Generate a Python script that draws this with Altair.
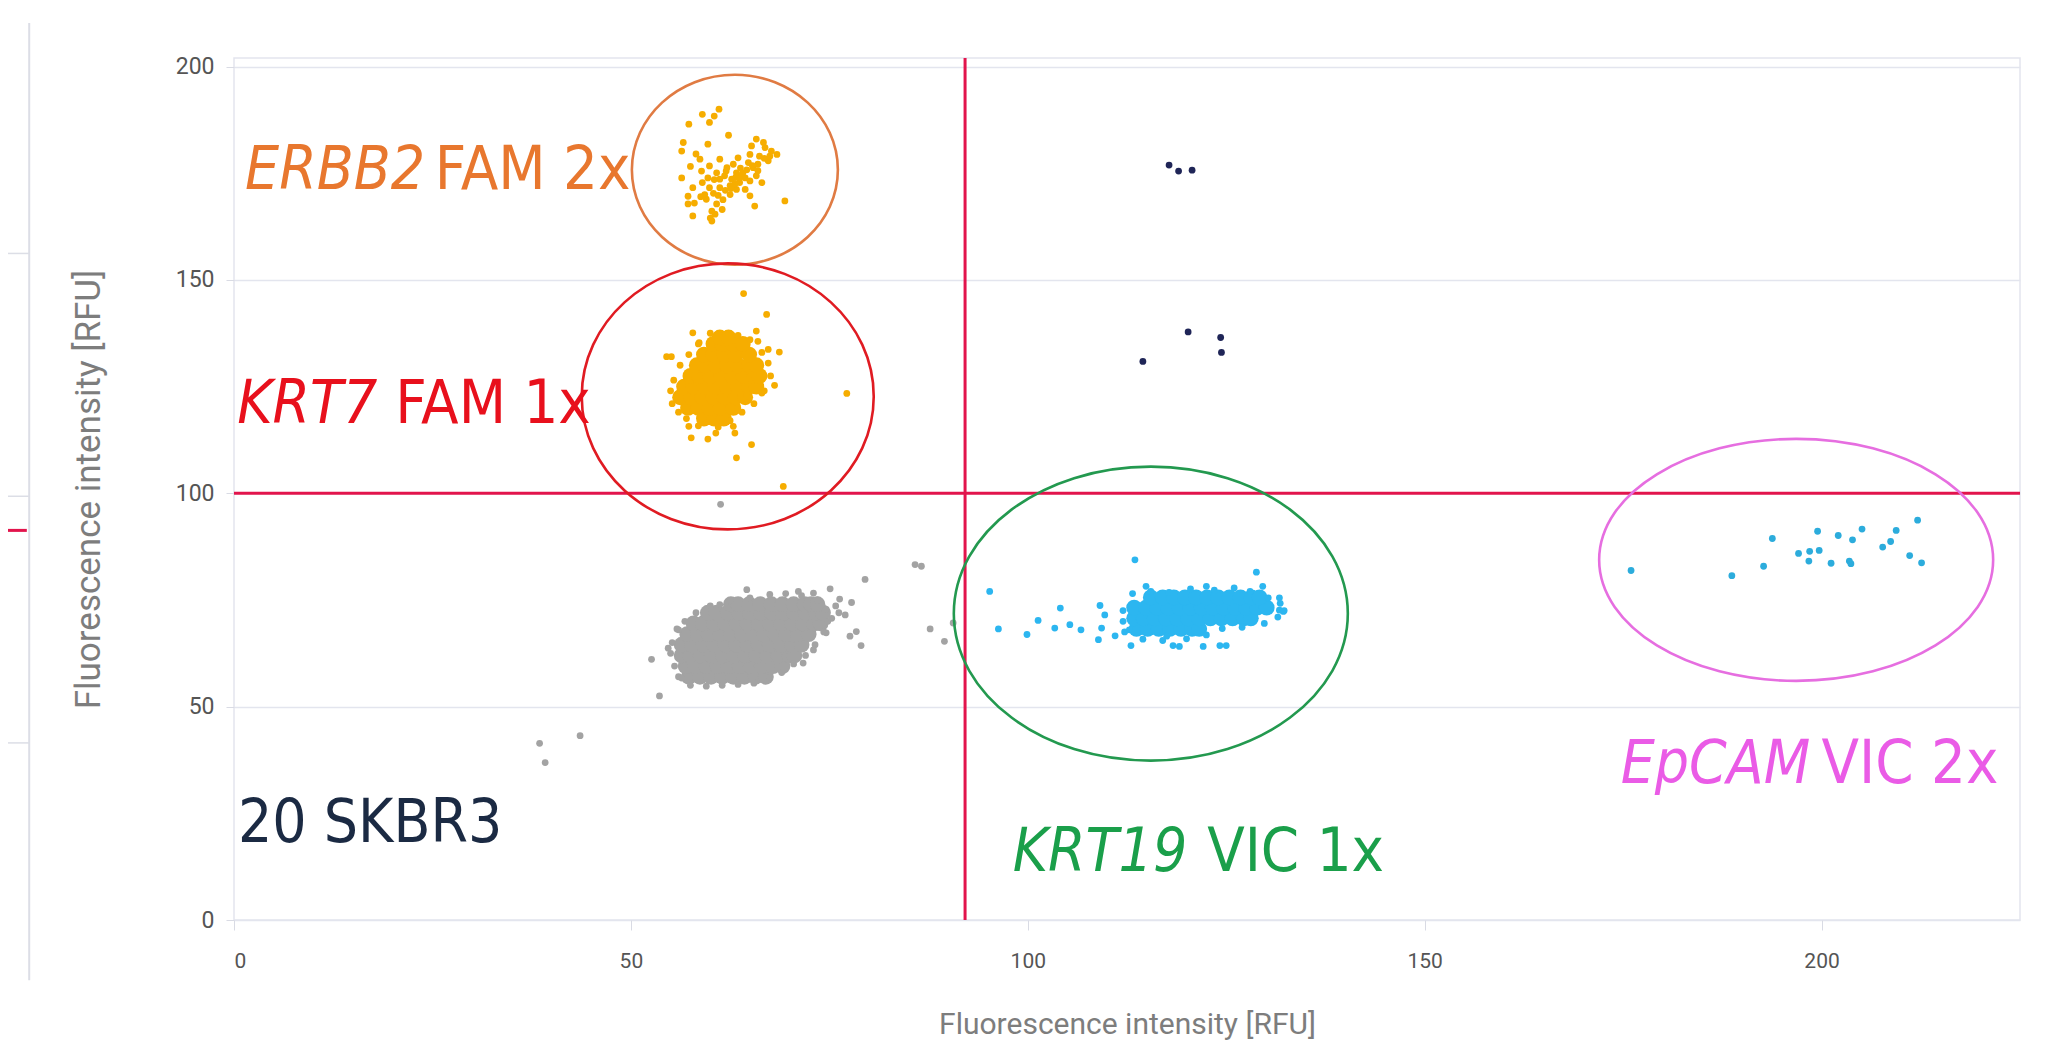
import altair as alt
import pandas as pd

# ---------------- data ----------------
x_domain = [0, 225]
y_domain = [0, 202]
tick_values = [0, 50, 100, 150, 200]

threshold_x = [92.1]
threshold_y = [100]

# dense negative-droplet core (rows of droplets)
gray_core_y = [57.0, 59.5, 62.0, 64.5, 67.0, 69.5, 72.0, 74.0]
gray_core_x = [
    [57.3, 58.7, 60.1, 61.5, 62.9, 64.3, 65.7, 67.0],
    [56.9, 58.1, 59.5, 60.9, 62.3, 63.7, 65.1, 66.5, 67.9, 69.1],
    [56.4, 57.5, 58.8, 60.2, 61.6, 63.0, 64.4, 65.8, 67.2, 68.6, 70.0, 70.6],
    [56.4, 57.7, 59.1, 60.5, 61.9, 63.3, 64.7, 66.1, 67.5, 68.9, 70.3, 71.5],
    [57.1, 58.4, 59.8, 61.2, 62.6, 64.0, 65.4, 66.8, 68.2, 69.6, 71.0, 72.4],
    [57.9, 59.1, 60.5, 61.9, 63.3, 64.7, 66.1, 67.5, 68.9, 70.3, 71.7, 73.1, 73.9],
    [59.7, 60.8, 62.2, 63.6, 65.0, 66.4, 67.8, 69.2, 70.6, 72.0, 73.3, 74.2],
    [62.6, 63.5, 64.9, 66.3, 67.7, 69.1, 70.5, 71.9, 72.7, 73.5],
]
gray_points = [
    (55.0, 62.5), (55.2, 65.0), (55.5, 59.5), (56.0, 57.0), (57.5, 55.0), (59.5, 54.8),
    (61.5, 55.0), (63.5, 55.2), (65.5, 55.5), (67.5, 56.8), (69.0, 58.0), (70.5, 60.0),
    (72.0, 62.0), (73.2, 64.5), (74.3, 67.5), (74.8, 70.0), (74.6, 72.8), (73.5, 75.0),
    (71.5, 76.0), (69.5, 76.5), (67.5, 76.3), (65.0, 75.5), (62.5, 74.8), (60.0, 73.6),
    (58.2, 72.0), (56.8, 70.0), (56.0, 68.0), (75.8, 73.6), (76.2, 72.0),
    (52.6, 61.1), (53.6, 52.5), (54.7, 63.7), (55.8, 68.2), (64.6, 77.4), (61.2, 73.9),
    (71.1, 77.0), (73.0, 76.6), (75.1, 77.6), (76.3, 75.2), (77.8, 74.4), (77.0, 71.5),
    (75.3, 70.7), (79.5, 79.8), (85.8, 83.3), (86.6, 82.9), (78.4, 67.6), (77.6, 66.5),
    (79.0, 64.3), (74.6, 67.3), (73.0, 63.3), (71.7, 60.2), (87.7, 68.2), (89.5, 65.3),
    (90.6, 69.6), (38.5, 41.4), (39.2, 36.9), (43.6, 43.2), (61.3, 97.4), (56.4, 56.7),
]

erbb2_points = [
    (61.1, 190.0), (60.5, 188.4), (59.0, 188.8), (59.9, 186.9), (57.3, 186.5), (62.3, 183.9),
    (56.6, 182.2), (59.7, 181.8), (56.4, 180.2), (65.8, 183.0), (66.7, 182.2), (65.2, 181.4),
    (67.7, 180.2), (68.4, 179.4), (66.2, 179.0), (63.5, 178.6), (58.7, 178.3), (61.2, 178.3),
    (67.3, 177.9), (59.9, 176.7), (62.1, 176.3), (65.4, 176.3), (58.9, 175.5), (60.8, 175.1),
    (64.1, 175.1), (65.8, 174.4), (56.4, 173.9), (59.7, 173.9), (62.7, 173.6), (63.7, 172.8),
    (65.0, 173.2), (66.5, 172.8), (57.8, 171.6), (59.9, 171.6), (61.2, 171.6), (63.3, 171.2),
    (64.4, 171.2), (59.3, 170.0), (62.5, 170.0), (65.0, 169.7), (57.2, 169.6), (61.6, 168.8),
    (57.2, 167.8), (60.8, 167.8), (65.6, 167.3), (60.2, 166.1), (57.8, 165.0), (60.6, 165.4),
    (60.2, 163.8), (69.4, 168.5), (62.9, 177.1), (64.8, 177.5), (61.8, 174.4), (63.3, 175.1),
    (62.5, 172.1), (65.0, 179.4), (66.0, 177.1), (63.7, 173.9), (63.1, 172.5), (64.4, 173.9),
    (61.2, 173.6),
    (58.0, 168.0), (58.8, 169.5), (59.5, 168.9), (60.4, 170.3), (61.0, 169.8), (61.9, 171.0),
    (62.6, 171.4), (63.2, 174.0), (64.0, 174.6), (64.6, 175.8), (65.3, 176.8), (66.0, 175.6),
    (66.8, 178.5), (67.5, 179.0), (62.0, 175.5), (60.5, 173.5), (59.0, 172.8), (61.5, 166.5),
    (60.0, 164.5), (63.8, 176.2), (66.9, 181.0), (58.2, 179.5), (57.5, 176.6),
]

krt7_core_y = [117.5, 120.0, 122.5, 125.0, 127.5, 130.0, 132.5, 135.0, 136.5]
krt7_core_x = [
    [59.2, 60.5, 61.7],
    [57.2, 58.5, 59.9, 61.3, 62.9],
    [56.2, 57.6, 59.0, 60.4, 61.8, 63.2, 64.4],
    [56.7, 57.9, 59.3, 60.7, 62.1, 63.5, 64.9, 65.8],
    [57.5, 58.6, 60.0, 61.4, 62.8, 64.2, 65.6, 66.2],
    [58.3, 59.3, 60.7, 62.1, 63.5, 64.9, 65.8],
    [59.2, 60.4, 61.8, 63.2, 64.9],
    [60.4, 61.5, 62.9, 64.1],
    [61.2, 62.3],
]
krt7_points = [
    (64.2, 146.8), (67.1, 141.9), (57.8, 137.6), (58.6, 135.3), (65.8, 138.0), (66.0, 135.6),
    (67.3, 133.7), (68.7, 133.1), (54.5, 132.0), (55.1, 132.0), (68.1, 125.3), (77.2, 123.4),
    (55.2, 121.0), (57.3, 115.7), (57.6, 113.0), (59.7, 112.7), (60.7, 114.1), (62.9, 115.7),
    (63.1, 114.1), (65.2, 111.4), (63.3, 108.3), (69.2, 101.6), (66.5, 123.5), (64.6, 122.8),
    (55.0, 124.0), (55.4, 126.5), (56.0, 119.0), (57.0, 117.5), (58.5, 115.8), (61.0, 115.5),
    (62.5, 117.0), (64.0, 119.0), (65.5, 121.0), (66.8, 124.0), (67.6, 127.5), (67.3, 130.5),
    (66.5, 133.0), (65.0, 136.0), (63.5, 137.0), (60.0, 137.5), (58.5, 135.0), (57.3, 132.5),
    (56.2, 130.0),
]

krt19_core_y = [68.2, 70.7, 73.2, 75.6]
krt19_core_x = [
    [113.7, 115.1, 116.5, 117.9, 119.3, 120.7, 121.6],
    [113.4, 114.6, 116.0, 117.4, 118.8, 120.2, 121.6, 123.0, 124.4, 125.8, 127.2, 128.1],
    [113.4, 114.9, 116.3, 117.7, 119.1, 120.5, 121.9, 123.3, 124.7, 126.1, 127.5, 128.9, 130.1],
    [115.5, 117.0, 118.4, 119.8, 121.2, 122.6, 124.0, 125.4, 126.8, 128.2, 129.2],
]
krt19_points = [
    (113.5, 84.4), (128.8, 81.5), (95.2, 77.0), (96.3, 68.2), (99.9, 66.9), (101.3, 70.2),
    (103.4, 68.4), (104.1, 73.1), (105.3, 69.2), (106.7, 68.0), (109.1, 73.7), (109.7, 71.5),
    (109.3, 68.4), (108.9, 65.7), (111.0, 66.6), (113.0, 64.3), (118.3, 64.3), (119.1, 64.1),
    (122.1, 64.1), (124.2, 64.3), (125.0, 64.3), (131.7, 75.5), (132.2, 72.3), (131.7, 72.6),
    (129.6, 78.2), (122.5, 78.2), (114.9, 78.2), (117.5, 66.5), (112.8, 68.0),
    (113.2, 76.5), (115.5, 77.0), (117.8, 76.8), (120.5, 77.6), (123.5, 77.3), (126.0, 77.8),
    (128.0, 77.0), (130.3, 75.5), (131.8, 74.2), (132.3, 72.5), (131.5, 71.0), (129.8, 69.5),
    (127.0, 68.6), (124.5, 68.3), (122.5, 66.8), (120.0, 65.9), (117.0, 65.5), (114.5, 65.8),
    (112.2, 67.5), (112.0, 70.0), (112.0, 72.5),
]

epcam_points = [
    (176.0, 81.9), (188.7, 80.7), (192.7, 82.9), (193.8, 89.4), (197.1, 85.9), (198.4, 84.1),
    (198.5, 86.4), (199.7, 86.6), (199.5, 91.1), (201.2, 83.6), (202.1, 90.1), (203.5, 84.1),
    (203.7, 83.5), (203.9, 89.1), (205.1, 91.6), (207.7, 87.4), (208.7, 88.7), (209.4, 91.3),
    (211.1, 85.4), (212.1, 93.7), (212.6, 83.7),
]

double_points = [
    (117.8, 176.9), (119.0, 175.5), (120.7, 175.7), (120.2, 137.8), (124.3, 136.5),
    (124.4, 133.0), (114.5, 130.9),
]

# annotation ellipse centres (data units)
ellipse_names = ["ERBB2", "KRT7", "KRT19", "EpCAM"]
ellipse_x = [63.1, 62.2, 115.5, 196.8]
ellipse_y = [175.8, 122.7, 71.8, 84.4]

# annotation texts
gene_names = ["ERBB2", "KRT7", "KRT19", "EpCAM"]
gene_x = [1.4, 0.4, 98.1, 174.7]
probe_names = ["FAM 2x", "FAM 1x", "VIC 1x", "VIC 2x"]
probe_x = [25.3, 20.3, 122.6, 200.0]
label_y = [171.2, 116.4, 11.5, 32.1]
sample_label = ["20 SKBR3"]
sample_x = [0.5]
sample_y = [18.3]

# partial neighbouring panel at the far left
stub_x = [-28.5, -25.8]
stub_grid_y = [156.2, 99.3, 41.5]
stub_red_y = [91.3]
stub_span_y = [-14.1, 210.2]

# ---------------- styles ----------------
GRAY = "#a3a3a3"
YELLOW = "#f6ad00"
CYAN = "#2cb6f0"
TEAL = "#2cacdc"
NAVY = "#1f2557"
RED_LINE = "#e2144c"
GRID = "#e3e5ee"
gene_colors = ["#e8772e", "#e8101c", "#1a9f4a", "#ea5be6"]
ellipse_colors = ["#e07b43", "#e01b22", "#23994f", "#e66ee0"]
ANN_FONT = "DejaVu Sans Condensed, Liberation Sans"
DOT = 46
CORE = 250

# ---------------- helpers ----------------
def pts_df(pairs):
    return pd.DataFrame(pairs, columns=["x", "y"])


def rows_df(row_y, row_x):
    xs, ys = [], []
    for yv, row in zip(row_y, row_x):
        xs += list(row)
        ys += [yv] * len(row)
    return pd.DataFrame({"x": xs, "y": ys})


def ellipse_path(k):
    c = 0.5523
    return (f"M -1 0 C -1 {-c*k:.4f} {-c:.4f} {-k:.4f} 0 {-k:.4f} "
            f"C {c:.4f} {-k:.4f} 1 {-c*k:.4f} 1 0 "
            f"C 1 {c*k:.4f} {c:.4f} {k:.4f} 0 {k:.4f} "
            f"C {-c:.4f} {k:.4f} -1 {c*k:.4f} -1 0 Z")


xscale = alt.Scale(domain=x_domain, nice=False, zero=False)
yscale = alt.Scale(domain=y_domain, nice=False, zero=False)

xaxis = alt.Axis(values=tick_values, grid=False, domain=False, ticks=True,
                 tickColor="#d9dbe4", tickSize=10, labelPadding=20,
                 labelFont="Roboto", labelFontSize=21, labelColor="#555555",
                 title="Fluorescence intensity [RFU]", titleFont="Roboto",
                 titleFontSize=30, titleFontWeight="normal", titleColor="#7d7d7d",
                 titleX=893, titleY=104, titleBaseline="middle")
yaxis = alt.Axis(values=tick_values, grid=True, gridColor=GRID, gridWidth=1.5,
                 domain=False, ticks=True, tickColor="#d9dbe4", tickSize=8,
                 labelPadding=12, labelFont="Roboto", labelFontSize=23,
                 labelColor="#555555",
                 title="Fluorescence intensity [RFU]", titleFont="Roboto",
                 titleFontSize=35, titleFontWeight="normal", titleColor="#7d7d7d",
                 titleX=-146, titleY=431, titleBaseline="middle", titleAngle=270)

X = alt.X("x:Q", scale=xscale, axis=xaxis)
Y = alt.Y("y:Q", scale=yscale, axis=yaxis)


def dots(df, color, size):
    return alt.Chart(df).mark_circle(size=size, color=color, opacity=1).encode(x=X, y=Y)


layers = []
layers.append(dots(rows_df(gray_core_y, gray_core_x), GRAY, CORE))
layers.append(dots(pts_df(gray_points), GRAY, DOT))
layers.append(dots(rows_df(krt7_core_y, krt7_core_x), YELLOW, CORE))
layers.append(dots(pts_df(krt7_points), YELLOW, DOT))
layers.append(dots(pts_df(erbb2_points), YELLOW, DOT))
layers.append(dots(rows_df(krt19_core_y, krt19_core_x), CYAN, CORE))
layers.append(dots(pts_df(krt19_points), CYAN, DOT))
layers.append(dots(pts_df(epcam_points), TEAL, DOT))
layers.append(dots(pts_df(double_points), NAVY, DOT))

# threshold lines
layers.append(alt.Chart(pd.DataFrame({"x": threshold_x})).mark_rule(
    color=RED_LINE, strokeWidth=3).encode(x=X))
layers.append(alt.Chart(pd.DataFrame({"y": threshold_y})).mark_rule(
    color=RED_LINE, strokeWidth=3).encode(y=Y))

# annotation ellipses
ellipse_px = [(103, 95), (146, 133), (197, 147), (197, 121)]
for i, name in enumerate(ellipse_names):
    rx, ry = ellipse_px[i]
    df = pd.DataFrame({"x": [ellipse_x[i]], "y": [ellipse_y[i]], "name": [name]})
    layers.append(alt.Chart(df).mark_point(
        shape=ellipse_path(ry / rx), size=(2 * rx) ** 2, filled=False,
        strokeWidth=2.6, color=ellipse_colors[i], opacity=1, clip=False
    ).encode(x=X, y=Y))

# annotation texts
gene_color = alt.Color("gene:N", scale=alt.Scale(domain=gene_names, range=gene_colors),
                       legend=None)
ital_df = pd.DataFrame({"gene": gene_names, "x": gene_x, "y": label_y, "t": gene_names})
norm_df = pd.DataFrame({"gene": gene_names, "x": probe_x, "y": label_y, "t": probe_names})
layers.append(alt.Chart(ital_df).mark_text(
    font=ANN_FONT, fontSize=60, fontStyle="italic", align="left",
    baseline="alphabetic", clip=False).encode(x=X, y=Y, text="t:N", color=gene_color))
layers.append(alt.Chart(norm_df).mark_text(
    font=ANN_FONT, fontSize=61, align="left",
    baseline="alphabetic", clip=False).encode(x=X, y=Y, text="t:N", color=gene_color))
layers.append(alt.Chart(pd.DataFrame({"x": sample_x, "y": sample_y, "t": sample_label}))
              .mark_text(font=ANN_FONT, fontSize=60, align="left", baseline="alphabetic",
                         color="#1b2a43", clip=False)
              .encode(x=X, y=Y, text="t:N"))

# partial neighbouring panel on the far left
layers.append(alt.Chart(pd.DataFrame({"x": [stub_x[1]], "y": [stub_span_y[0]],
                                      "y2": [stub_span_y[1]]}))
              .mark_rule(color="#dcdee6", strokeWidth=2, clip=False)
              .encode(x=X, y=Y, y2="y2:Q"))
layers.append(alt.Chart(pd.DataFrame({"x": [stub_x[0]] * len(stub_grid_y),
                                      "x2": [stub_x[1]] * len(stub_grid_y),
                                      "y": stub_grid_y}))
              .mark_rule(color="#dcdee6", strokeWidth=1.5, clip=False)
              .encode(x=X, x2="x2:Q", y=Y))
layers.append(alt.Chart(pd.DataFrame({"x": [stub_x[0]], "x2": [stub_x[1] - 0.3],
                                      "y": stub_red_y}))
              .mark_rule(color=RED_LINE, strokeWidth=3, clip=False)
              .encode(x=X, x2="x2:Q", y=Y))

chart = alt.layer(*layers).properties(
    width=1786, height=862,
    autosize=alt.AutoSizeParams(type="none"),
    padding={"left": 226, "top": 50, "right": 20, "bottom": 130},
    background="white",
).configure_view(stroke=GRID, strokeWidth=1.5)

chart.save("out.html", embed_options={"renderer": "svg", "actions": False})
